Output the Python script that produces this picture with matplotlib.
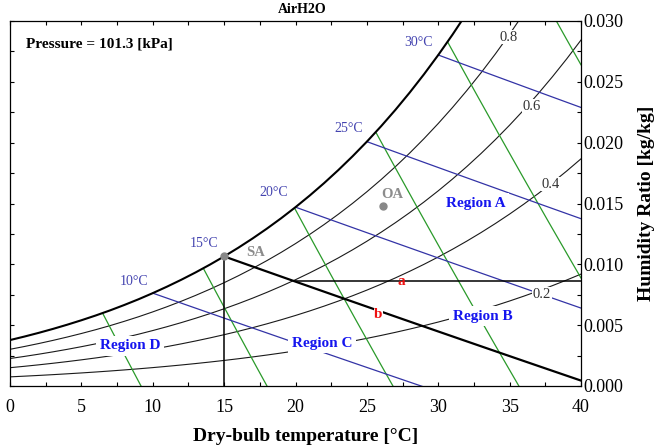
import numpy as np
import matplotlib
matplotlib.use('Agg')
import matplotlib.pyplot as plt
from matplotlib.patches import Polygon
from matplotlib.ticker import MultipleLocator, FormatStrFormatter

plt.rcParams['font.family'] = ['Liberation Serif', 'DejaVu Serif']
plt.rcParams['mathtext.fontset'] = 'stix'

# ---------------- data ----------------
pressure = 101.3  # kPa
temps = list(range(0, 41))  # dry-bulb temperature table [C]
psat_kpa = [0.6113, 0.6571, 0.7060, 0.7581, 0.8136, 0.8725, 0.9350, 1.0016, 1.0726, 1.1477,
            1.2281, 1.3129, 1.4027, 1.4979, 1.5988, 1.7056, 1.8185, 1.9380, 2.0644, 2.1978,
            2.3388, 2.4877, 2.6447, 2.8104, 2.9850, 3.1690, 3.3629, 3.5670, 3.7818, 4.0078,
            4.2455, 4.4953, 4.7578, 5.0335, 5.3229, 5.6267, 5.9453, 6.2795, 6.6298, 6.9969, 7.3814]

rh_levels = [0.2, 0.4, 0.6, 0.8]
rh_labels = ['0.2', '0.4', '0.6', '0.8']
rh_label_x = [37.27, 37.9, 36.55, 34.9]
rh_label_y = [0.00756, 0.0166, 0.0230, 0.02868]

wetbulb_temps = [10, 20, 25, 30]
wetbulb_labels = ['10°C', '15°C', '20°C', '25°C', '30°C']
wetbulb_label_x = [8.7, 13.6, 18.5, 23.7, 28.65]
wetbulb_label_y = [0.00863, 0.01175, 0.01594, 0.0212, 0.02827]

volume_levels = [0.800, 0.825, 0.850, 0.875, 0.900, 0.925]  # m3/kg

process_wetbulb = 15      # line b
line_a_w = 0.0086         # line a humidity ratio
sa_temp = 15
oa_temp, oa_w = 26.1, 0.0148

region_names = ['Region A', 'Region B', 'Region C', 'Region D']
region_x = [32.64, 33.1, 21.86, 8.4]
region_y = [0.01504, 0.00575, 0.00353, 0.00329]

# ---------------- psychrometric helpers ----------------
T = np.array(temps, dtype=float)
ps = np.array(psat_kpa)


def w_from_pv(pv):
    return 0.621945 * pv / (pressure - pv)


ws = w_from_pv(ps)
ws_at = dict(zip(temps, ws))


def wetbulb_w(tdb, twb):
    wss = ws_at[twb]
    return ((2501 - 2.326 * twb) * wss - 1.006 * (tdb - twb)) / (2501 + 1.86 * tdb - 4.186 * twb)


def wetbulb_t(w, twb):
    wss = ws_at[twb]
    return ((2501 - 2.326 * twb) * wss - w * (2501 - 4.186 * twb) + 1.006 * twb) / (1.006 + 1.86 * w)


def volume_w(tdb, v):
    return (v * pressure / (0.287042 * (tdb + 273.15)) - 1) / 1.607858


# ---------------- figure ----------------
fig = plt.figure(figsize=(6.59, 4.45), dpi=100)
ax = fig.add_axes([10 / 659, 59 / 445, 571 / 659, 365 / 445])
ax.set_xlim(0, 40)
ax.set_ylim(0, 0.030)

clip = Polygon(np.column_stack([np.r_[T, 40, 0], np.r_[ws, -1, -1]]),
               closed=True, transform=ax.transData, facecolor='none', edgecolor='none')
ax.add_patch(clip)

# saturation curve
ax.plot(T, ws, color='black', lw=1.5, zorder=3)
# relative humidity curves
for phi in rh_levels:
    ax.plot(T, w_from_pv(phi * ps), color='#1a1a1a', lw=0.8, zorder=2)
for lab, x, y in zip(rh_labels, rh_label_x, rh_label_y):
    ax.text(x, y, lab, fontsize=10.5, color='#333333', ha='center', va='center', zorder=5,
            bbox=dict(facecolor='white', edgecolor='none', pad=0.5))

# specific volume lines (green)
tg = np.linspace(0, 40, 161)
for v in volume_levels:
    ln, = ax.plot(tg, volume_w(tg, v), color='#2a9a2a', lw=0.9, zorder=2)
    ln.set_clip_path(clip)

# wet-bulb lines (blue)
for twb in wetbulb_temps:
    tt = np.linspace(twb, 40, 120)
    ax.plot(tt, wetbulb_w(tt, twb), color='#3333a6', lw=0.9, zorder=2)
for lab, x, y in zip(wetbulb_labels, wetbulb_label_x, wetbulb_label_y):
    ax.text(x, y, lab, fontsize=10, color='#4444b0', ha='center', va='center', zorder=5)

# process line b (wet-bulb 15 C)
tb = np.linspace(process_wetbulb, 40, 120)
ax.plot(tb, wetbulb_w(tb, process_wetbulb), color='black', lw=1.6, zorder=4)
# line a
ta0 = wetbulb_t(line_a_w, process_wetbulb)
ax.plot([ta0, 40], [line_a_w, line_a_w], color='black', lw=1.1, zorder=4)
# vertical from SA
ax.plot([sa_temp, sa_temp], [0, ws_at[sa_temp]], color='black', lw=1.1, zorder=4)

ax.text(27.4, 0.00855, 'a', color='#ee1111', fontsize=11, fontweight='bold',
        ha='center', va='center', zorder=6)
ax.text(25.8, 0.0059, 'b', color='#ee1111', fontsize=11, fontweight='bold',
        ha='center', va='center', zorder=6,
        bbox=dict(facecolor='white', edgecolor='none', pad=0.3))

# state points
ax.plot([sa_temp], [ws_at[sa_temp]], 'o', color='#888888', ms=5, zorder=7)
ax.plot([oa_temp], [oa_w], 'o', color='#888888', ms=5, zorder=7)
ax.text(17.2, 0.0110, 'SA', color='#8c8c8c', fontsize=10.5, fontweight='bold',
        ha='center', va='center', zorder=6)
ax.text(26.76, 0.0157, 'OA', color='#8c8c8c', fontsize=10.5, fontweight='bold',
        ha='center', va='center', zorder=6)

for name, x, y in zip(region_names, region_x, region_y):
    ax.text(x, y, name, color='#1515ee', fontsize=11, fontweight='bold',
            ha='center', va='center', zorder=6,
            bbox=dict(facecolor='white', edgecolor='none', pad=2.5))

ax.text(1.12, 0.0281, 'Pressure = 101.3 [kPa]', fontsize=11, fontweight='bold',
        ha='left', va='center', zorder=6)

fig.text(302 / 659, 1 - 9.5 / 445, 'AirH2O', fontsize=10, fontweight='bold',
         ha='center', va='center')

# axes styling
ax.xaxis.set_major_locator(MultipleLocator(5))
ax.xaxis.set_minor_locator(MultipleLocator(2.5))
ax.yaxis.set_major_locator(MultipleLocator(0.005))
ax.yaxis.set_minor_locator(MultipleLocator(0.0025))
ax.yaxis.set_major_formatter(FormatStrFormatter('%.3f'))
ax.yaxis.tick_right()
ax.yaxis.set_label_position('right')
ax.tick_params(which='both', direction='in', length=3, width=0.8, top=True, left=True, right=True,
               labelsize=13, pad=2)
ax.tick_params(axis='x', pad=9)
for s in ax.spines.values():
    s.set_linewidth(0.9)

ax.set_xlabel('Dry-bulb temperature [°C]', fontsize=14, fontweight='bold')
ax.xaxis.label.set_va('center')
ax.xaxis.set_label_coords((305.5 - 10) / 571, -0.137)
ax.set_ylabel('Humidity Ratio [kg/kg]', fontsize=14, fontweight='bold', labelpad=10)

fig.savefig('out.png', dpi=100)
